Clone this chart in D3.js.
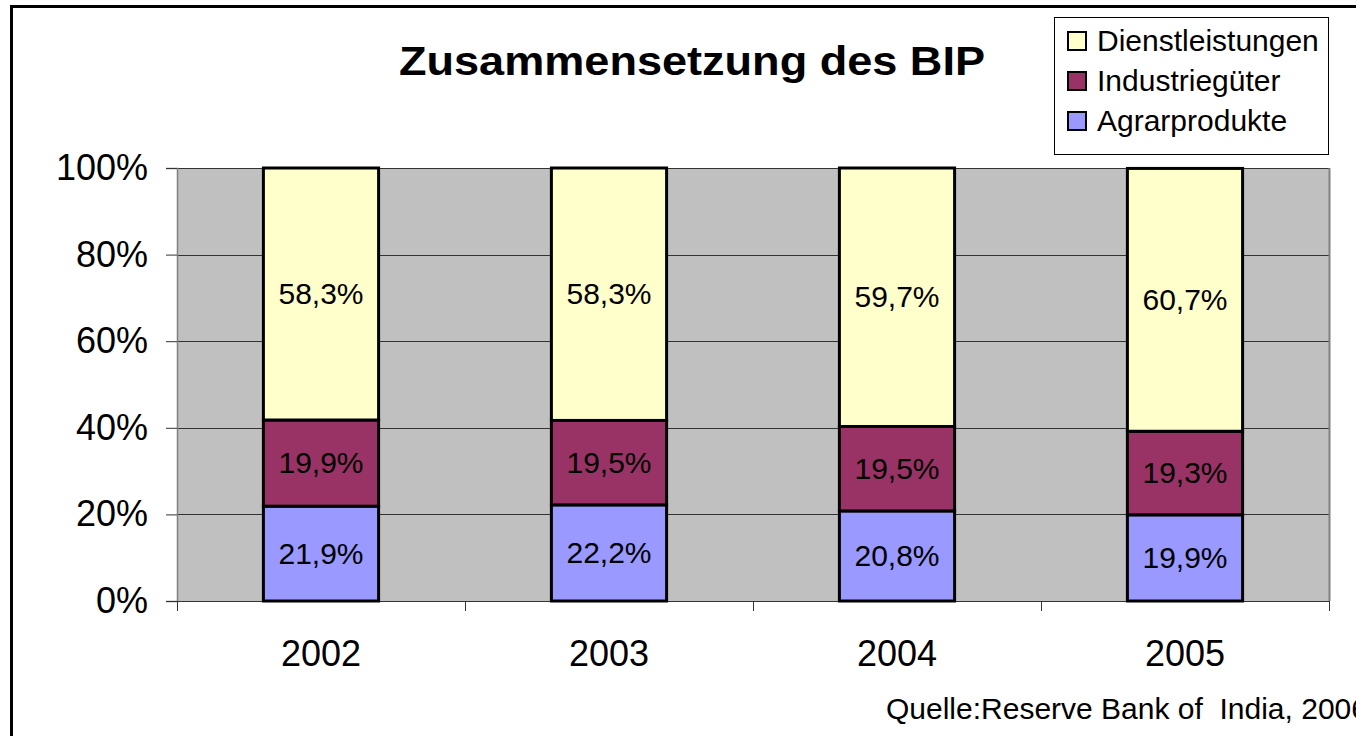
<!DOCTYPE html>
<html>
<head>
<meta charset="utf-8">
<script src="https://cdn.jsdelivr.net/npm/d3@7"></script>
<style>
  body { margin: 0; background: #fff; }
  svg { display: block; font-family: Arial, "Liberation Sans", sans-serif; }
</style>
</head>
<body>
<div id="chart"></div>
<script>
// Data
const years = ["2002", "2003", "2004", "2005"];
const seriesNames = ["Agrarprodukte", "Industriegüter", "Dienstleistungen"];
const agrar = [21.9, 22.2, 20.8, 19.9];
const industrie = [19.9, 19.5, 19.5, 19.3];
const dienst = [58.3, 58.3, 59.7, 60.7];
const yTicks = [0, 20, 40, 60, 80, 100];

const colors = {
    "Agrarprodukte": "#9999FF",
    "Industriegüter": "#993366",
    "Dienstleistungen": "#FFFFCC"
};

const width = 1356, height = 736;
const margin = { left: 177, right: 27, top: 168, bottom: 135 };

const svg = d3.select('#chart').append('svg')
    .attr('width', width)
    .attr('height', height);

// outer frame (only top and left edges are visible in the crop)
svg.append('path')
    .attr('d', `M11.5,${height} L11.5,6.5 L${width},6.5`)
    .attr('fill', 'none')
    .attr('stroke', '#000')
    .attr('stroke-width', 3);

const rows = years.map((y, i) => ({
    year: y,
    "Agrarprodukte": agrar[i],
    "Industriegüter": industrie[i],
    "Dienstleistungen": dienst[i]
}));

const stacked = d3.stack().keys(seriesNames)(rows);

const x = d3.scaleBand()
    .domain(years)
    .range([margin.left, width - margin.right])
    .paddingInner(0.6)
    .paddingOuter(0.3);

const xOuter = d3.scaleBand()
    .domain(years)
    .range([margin.left, width - margin.right]);

const y = d3.scaleLinear()
    .domain([0, 100])
    .range([height - margin.bottom, margin.top]);

// plot background
svg.append('rect')
    .attr('x', margin.left)
    .attr('y', y(100))
    .attr('width', width - margin.right - margin.left)
    .attr('height', y(0) - y(100))
    .attr('fill', '#C0C0C0');

// gridlines
svg.append('g')
    .selectAll('line')
    .data(yTicks.slice(1))
    .enter().append('line')
    .attr('x1', margin.left)
    .attr('x2', width - margin.right)
    .attr('y1', d => Math.round(y(d)) + 0.5)
    .attr('y2', d => Math.round(y(d)) + 0.5)
    .attr('stroke', '#333')
    .attr('stroke-width', 1);

// right edge of plot area
svg.append('line')
    .attr('x1', width - margin.right + 0.5)
    .attr('x2', width - margin.right + 0.5)
    .attr('y1', y(100))
    .attr('y2', y(0))
    .attr('stroke', '#808080')
    .attr('stroke-width', 2);

// y axis
const yAxis = svg.append('g')
    .attr('transform', `translate(${margin.left},0)`)
    .call(d3.axisLeft(y).tickValues(yTicks).tickFormat(d => d + '%').tickSize(11).tickPadding(18));
yAxis.select('.domain').attr('stroke', '#808080').attr('stroke-width', 1.5);
yAxis.selectAll('.tick line').attr('stroke', '#333');
yAxis.selectAll('text')
    .attr('font-size', 36)
    .attr('fill', '#000')
    .attr('font-family', 'Arial, "Liberation Sans", sans-serif');

// x axis: ticks at category boundaries
const xAxisG = svg.append('g')
    .attr('transform', `translate(0,${y(0)})`);
xAxisG.append('line')
    .attr('x1', margin.left)
    .attr('x2', width - margin.right)
    .attr('y1', 0.5).attr('y2', 0.5)
    .attr('stroke', '#333');
const boundaries = years.map(d => xOuter(d)).concat([width - margin.right]);
xAxisG.selectAll('line.tk')
    .data(boundaries)
    .enter().append('line')
    .attr('class', 'tk')
    .attr('x1', d => d + 0.5).attr('x2', d => d + 0.5)
    .attr('y1', 0).attr('y2', 10)
    .attr('stroke', '#333');
xAxisG.selectAll('text')
    .data(years)
    .enter().append('text')
    .attr('x', d => xOuter(d) + xOuter.bandwidth() / 2)
    .attr('y', 65)
    .attr('text-anchor', 'middle')
    .attr('font-size', 36)
    .text(d => d);

// bars
const layers = svg.append('g')
    .selectAll('g')
    .data(stacked)
    .enter().append('g')
    .attr('fill', d => colors[d.key]);

layers.selectAll('rect')
    .data(d => d)
    .enter().append('rect')
    .attr('x', d => x(d.data.year))
    .attr('y', d => y(Math.min(d[1], 100)))
    .attr('width', x.bandwidth())
    .attr('height', d => y(d[0]) - y(Math.min(d[1], 100)))
    .attr('stroke', '#000')
    .attr('stroke-width', 3);

// value labels
layers.selectAll('text')
    .data(d => d)
    .enter().append('text')
    .attr('x', d => x(d.data.year) + x.bandwidth() / 2)
    .attr('y', d => (y(d[0]) + y(Math.min(d[1], 100))) / 2 + 10)
    .attr('text-anchor', 'middle')
    .attr('font-size', 30)
    .attr('fill', '#000')
    .text(d => (d[1] - d[0]).toFixed(1).replace('.', ',') + '%');

// title
svg.append('text')
    .attr('x', 399)
    .attr('y', 75)
    .attr('font-size', 41)
    .attr('font-weight', 'bold')
    .attr('textLength', 586)
    .attr('lengthAdjust', 'spacingAndGlyphs')
    .text('Zusammensetzung des BIP');

// legend
const legend = svg.append('g');
legend.append('rect')
    .attr('x', 1054.5).attr('y', 17.5)
    .attr('width', 274).attr('height', 137)
    .attr('fill', '#fff')
    .attr('stroke', '#000')
    .attr('stroke-width', 1);
const legendOrder = seriesNames.slice().reverse();
legendOrder.forEach((name, i) => {
    const ly = 51 + i * 40;
    legend.append('rect')
        .attr('x', 1068).attr('y', ly - 19)
        .attr('width', 18).attr('height', 18)
        .attr('fill', colors[name])
        .attr('stroke', '#000')
        .attr('stroke-width', 2);
    legend.append('text')
        .attr('x', 1097)
        .attr('y', ly)
        .attr('font-size', 30)
        .text(name);
});

// source note (runs off the right edge like the original)
svg.append('text')
    .attr('x', 886)
    .attr('y', 719)
    .attr('font-size', 30)
    .style('white-space', 'pre')
    .text('Quelle:Reserve Bank of  India, 2006');
</script>
</body>
</html>
